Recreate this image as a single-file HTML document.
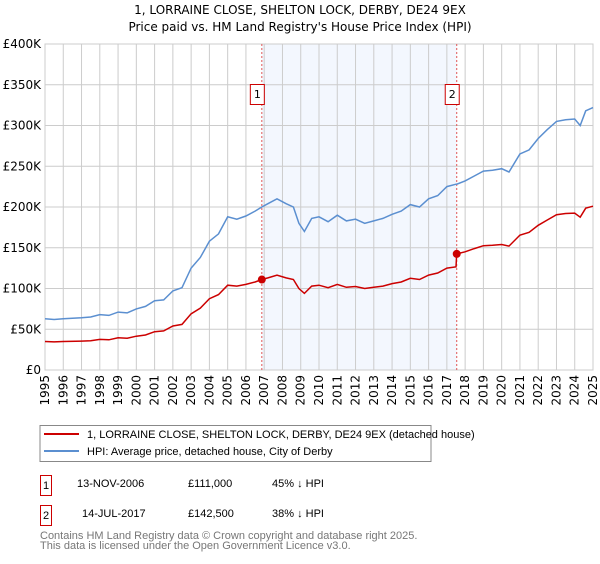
<!DOCTYPE html>
<html><head><meta charset="utf-8"><style>
body{margin:0;background:#fff;font-family:"DejaVu Sans","Liberation Sans",sans-serif;}
.lib{font-family:"Liberation Sans",sans-serif;}
</style></head><body>
<svg width="600" height="560" xmlns="http://www.w3.org/2000/svg" font-family="DejaVu Sans, Liberation Sans, sans-serif">
<text x="300" y="14" text-anchor="middle" font-size="12">1, LORRAINE CLOSE, SHELTON LOCK, DERBY, DE24 9EX</text>
<text x="300" y="31" text-anchor="middle" font-size="12">Price paid vs. HM Land Registry's House Price Index (HPI)</text>
<g id="plot"></g>
<g class="lib" font-family="Liberation Sans, sans-serif">
<rect x="40" y="425.5" width="391" height="36" fill="#fff" stroke="#888"/>
<line x1="44" y1="434" x2="79" y2="434" stroke="#cc0000" stroke-width="2"/>
<text x="87" y="438" font-size="11">1, LORRAINE CLOSE, SHELTON LOCK, DERBY, DE24 9EX (detached house)</text>
<line x1="44" y1="451" x2="79" y2="451" stroke="#5b8fd0" stroke-width="2"/>
<text x="87" y="455" font-size="11">HPI: Average price, detached house, City of Derby</text>
<rect x="40.5" y="475.5" width="11" height="20" fill="#fff" stroke="#cc0000"/>
<text x="46" y="489" font-size="11" text-anchor="middle">1</text>
<text x="77" y="487" font-size="11">13-NOV-2006</text>
<text x="188" y="487" font-size="11">£111,000</text>
<text x="272" y="487" font-size="11">45% ↓ HPI</text>
<rect x="40.5" y="505.5" width="11" height="20" fill="#fff" stroke="#cc0000"/>
<text x="46" y="519" font-size="11" text-anchor="middle">2</text>
<text x="82" y="517" font-size="11">14-JUL-2017</text>
<text x="188" y="517" font-size="11">£142,500</text>
<text x="272" y="517" font-size="11">38% ↓ HPI</text>
<text x="40" y="539" font-size="11" fill="#777">Contains HM Land Registry data © Crown copyright and database right 2025.</text>
<text x="40" y="549" font-size="11" fill="#777">This data is licensed under the Open Government Licence v3.0.</text>
</g>
</svg>
<script>
const years=[1995,1995.5,1996,1997,1997.5,1998,1998.5,1999,1999.5,2000,2000.5,2001,2001.5,2002,2002.5,2003,2003.5,2004,2004.5,2005,2005.5,2006,2006.5,2006.87,2007.2,2007.7,2008.2,2008.6,2008.9,2009.2,2009.6,2010,2010.5,2011,2011.5,2012,2012.5,2013,2013.5,2014,2014.5,2015,2015.5,2016,2016.5,2017,2017.5,2017.54,2018,2018.5,2019,2019.5,2020,2020.4,2021,2021.5,2022,2022.5,2023,2023.5,2024,2024.3,2024.6,2025];
const hpiValues=[63,62,63,64,65,68,67,71,70,75,78,85,86,97,101,125,138,158,167,188,185,189,195,200,204,210,204,200,180,170,186,188,182,190,183,185,180,183,186,191,195,203,200,210,214,225,228,228,232,238,244,245,247,243,265,270,284,295,305,307,308,300,318,322];
const priceValues=[35,34.5,35,35.5,36,37.5,37,39.5,39,41.5,43,47,48,54,56,69,76,87.5,92.5,104,103,105,108,111,113,116.5,113,111,100,94,103,104,101,105,101.5,102.5,100,101.5,103,106,108,112.5,111,116.5,119,125,126.5,142.5,145,149,152.5,153,154,152,165.5,169,177.5,184,190.5,192,192.5,187.5,198.5,201];
const yTicks=[0,50,100,150,200,250,300,350,400];
const xTicks=[1995,1996,1997,1998,1999,2000,2001,2002,2003,2004,2005,2006,2007,2008,2009,2010,2011,2012,2013,2014,2015,2016,2017,2018,2019,2020,2021,2022,2023,2024,2025];
const sales=[{n:"1",year:2006.87,value:111},{n:"2",year:2017.54,value:142.5}];
const X0=45,X1=593,Y0=370,Y1=44;
const xs=y=>X0+(y-1995)/30*(X1-X0);
const ys=v=>Y0-v/400*(Y0-Y1);
const NS="http://www.w3.org/2000/svg";
const g=document.getElementById('plot');
function mk(t,a,p){const e=document.createElementNS(NS,t);for(const k in a)e.setAttribute(k,a[k]);(p||g).appendChild(e);return e;}
const bg=mk('rect',{x:xs(sales[0].year),y:Y1,width:xs(sales[1].year)-xs(sales[0].year),height:Y0-Y1,fill:'#eef3fd',opacity:0.7});


xTicks.forEach(t=>{
  const l=mk('line',{x1:xs(t),x2:xs(t),y1:Y1,y2:Y0,stroke:'#ccc'});
  
  
  const tx=mk('text',{x:0,y:0,'font-size':12,'text-anchor':'end',transform:`translate(${xs(t)+4},${Y0+5}) rotate(-90)`});
  tx.textContent=t;
  
  
});
yTicks.forEach(t=>{
  const l=mk('line',{x1:X0,x2:X1,y1:ys(t),y2:ys(t),stroke:'#ccc'});
  
  
  const tx=mk('text',{x:X0-4,y:ys(t)+4,'font-size':12,'text-anchor':'end'});
  tx.textContent=t===0?'£0':'£'+t+'K';
  
  
});
const ax=mk('rect',{x:X0,y:Y1,width:X1-X0,height:Y0-Y1,fill:'none',stroke:'#ccc'});


sales.forEach(s=>{
  const l=mk('line',{x1:xs(s.year),x2:xs(s.year),y1:Y1,y2:Y0,stroke:'#e05555','stroke-dasharray':'2,2'});
  
  
  const r=mk('rect',{x:xs(s.year)-11.5,y:84.5,width:14,height:20,fill:'#fff',stroke:'#cc0000'});
  
  
  const t=mk('text',{x:xs(s.year)-4.5,y:98,'font-size':11,'text-anchor':'middle'});
  t.textContent=s.n;
  
  
});
const line=(vals,c,name)=>{
  const p=mk('path',{d:vals.map((v,i)=>(i?'L':'M')+xs(years[i]).toFixed(1)+','+ys(v).toFixed(1)).join(''),fill:'none',stroke:c,'stroke-width':1.5});
  
  
};
line(hpiValues,'#5b8fd0','hpi-line');
line(priceValues,'#cc0000','price-paid-line');
sales.forEach(s=>{
  const c=mk('circle',{cx:xs(s.year),cy:ys(s.value),r:4,fill:'#cc0000'});
  
  
});
</script>
</body></html>
